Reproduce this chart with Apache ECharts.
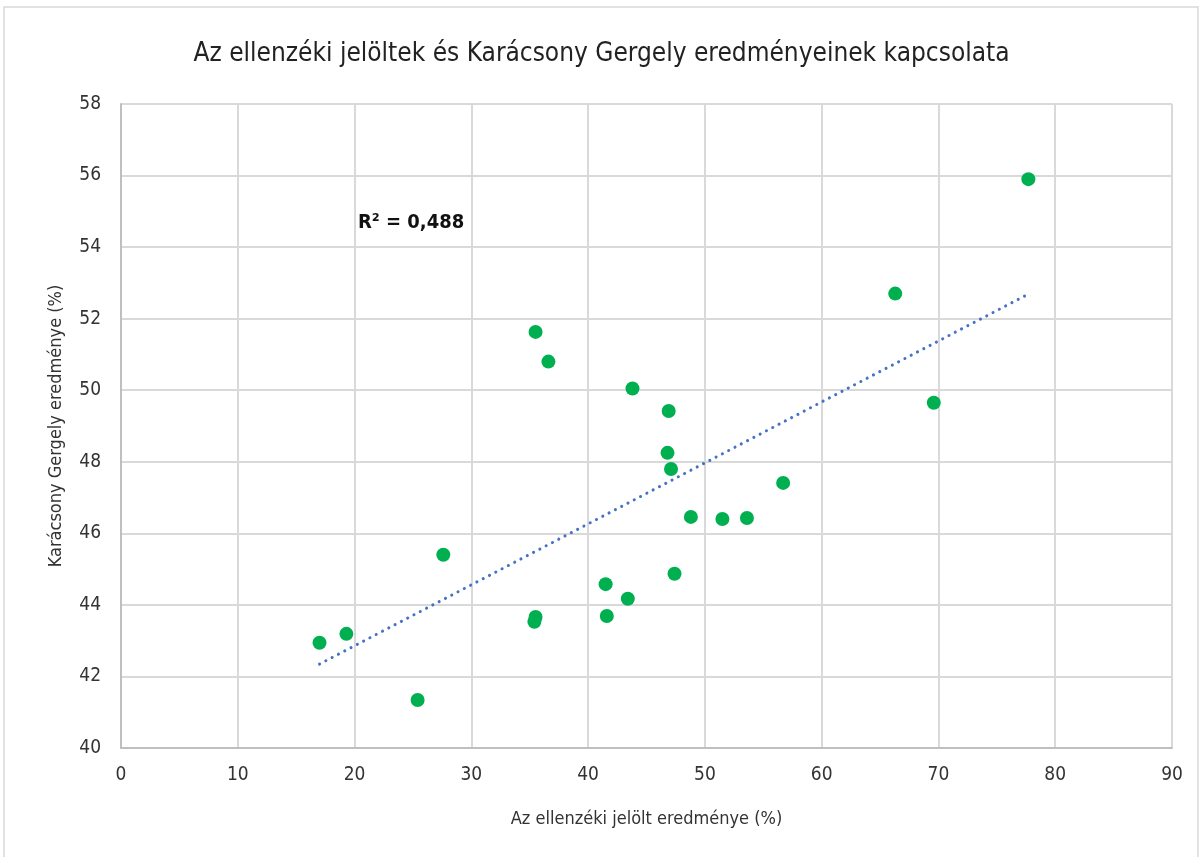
<!DOCTYPE html>
<html>
<head>
<meta charset="utf-8">
<script src="https://cdn.jsdelivr.net/npm/echarts@6/dist/echarts.min.js"></script>
<style>
	html, body { margin: 0; padding: 0; background: #fff; }
	#chart { width: 1203px; height: 857px; }
</style>
</head>
<body>
<div id="chart"></div>
<script>
// ellenzéki jelölt eredménye (%)
const ellenzeki = [77.7, 66.3, 69.6, 35.5, 36.6, 43.8, 46.9, 46.8, 47.1, 56.7, 48.8, 51.5, 53.6,
	27.6, 41.5, 47.4, 43.4, 35.5, 35.4, 41.6, 17.0, 19.3, 25.4];
// Karácsony Gergely eredménye (%)
const karacsony = [55.9, 52.7, 49.65, 51.63, 50.8, 50.05, 49.42, 48.25, 47.8, 47.41, 46.46, 46.4, 46.43,
	45.4, 44.58, 44.87, 44.17, 43.66, 43.53, 43.69, 42.94, 43.19, 41.34];

const fontName = '"Liberation Sans Narrow", "DejaVu Sans Condensed", sans-serif';

// pontpárok
const points = ellenzeki.map((x, i) => [x, karacsony[i]]);

// lineáris trendvonal (legkisebb négyzetek) a pontokból
const n = points.length;
const mx = ellenzeki.reduce((a, b) => a + b, 0) / n;
const my = karacsony.reduce((a, b) => a + b, 0) / n;
let sxy = 0, sxx = 0;
points.forEach(([x, y]) => { sxy += (x - mx) * (y - my); sxx += (x - mx) * (x - mx); });
const slope = sxy / sxx;
const intercept = my - slope * mx;
const xMin = Math.min(...ellenzeki), xMax = Math.max(...ellenzeki);
const trend = [[xMin, intercept + slope * xMin], [xMax, intercept + slope * xMax]];

const chart = echarts.init(document.getElementById('chart'));
chart.setOption({
	animation: false,
	backgroundColor: '#fff',
	title: {
		text: 'Az ellenzéki jelöltek és Karácsony Gergely eredményeinek kapcsolata',
		left: 'center',
		top: 36,
		textStyle: { fontFamily: fontName, fontSize: 26, fontWeight: 'normal', color: '#222' }
	},
	graphic: [
		{
			type: 'rect',
			shape: { x: 4, y: 7, width: 1194, height: 860 },
			style: { fill: 'none', stroke: '#d9d9d9', lineWidth: 1.5 },
			silent: true
		},
		{
			type: 'text',
			left: 358,
			top: 213,
			style: {
				text: 'R² = 0,488',
				font: 'bold 20px ' + fontName,
				fill: '#111'
			}
		}
	],
	grid: { left: 121, right: 31, top: 104, bottom: 109 },
	xAxis: {
		type: 'value',
		min: 0, max: 90, interval: 10,
		name: 'Az ellenzéki jelölt eredménye (%)',
		nameLocation: 'middle',
		nameGap: 62,
		nameTextStyle: { fontFamily: fontName, fontSize: 18, color: '#333' },
		axisLine: { show: true, lineStyle: { color: '#bfbfbf', width: 2 } },
		axisTick: { show: false },
		axisLabel: { fontFamily: fontName, fontSize: 19, color: '#333', margin: 18 },
		splitLine: { show: true, lineStyle: { color: '#d9d9d9', width: 2 } }
	},
	yAxis: {
		type: 'value',
		min: 40, max: 58, interval: 2,
		name: 'Karácsony Gergely eredménye (%)',
		nameLocation: 'middle',
		nameGap: 56,
		nameTextStyle: { fontFamily: fontName, fontSize: 18, color: '#333' },
		axisLine: { show: true, lineStyle: { color: '#bfbfbf', width: 2 } },
		axisTick: { show: false },
		axisLabel: { fontFamily: fontName, fontSize: 19, color: '#333', margin: 20 },
		splitLine: { show: true, lineStyle: { color: '#d9d9d9', width: 2 } }
	},
	series: [
		{
			name: 'Trendvonal',
			type: 'line',
			data: trend,
			symbol: 'none',
			lineStyle: { color: '#4472c4', width: 3, type: [0.1, 7], cap: 'round' },
			silent: true,
			z: 2
		},
		{
			name: 'Eredmények',
			type: 'scatter',
			data: points,
			symbolSize: 14,
			itemStyle: { color: '#00b050', opacity: 1 },
			z: 3
		}
	]
});
</script>
</body>
</html>
